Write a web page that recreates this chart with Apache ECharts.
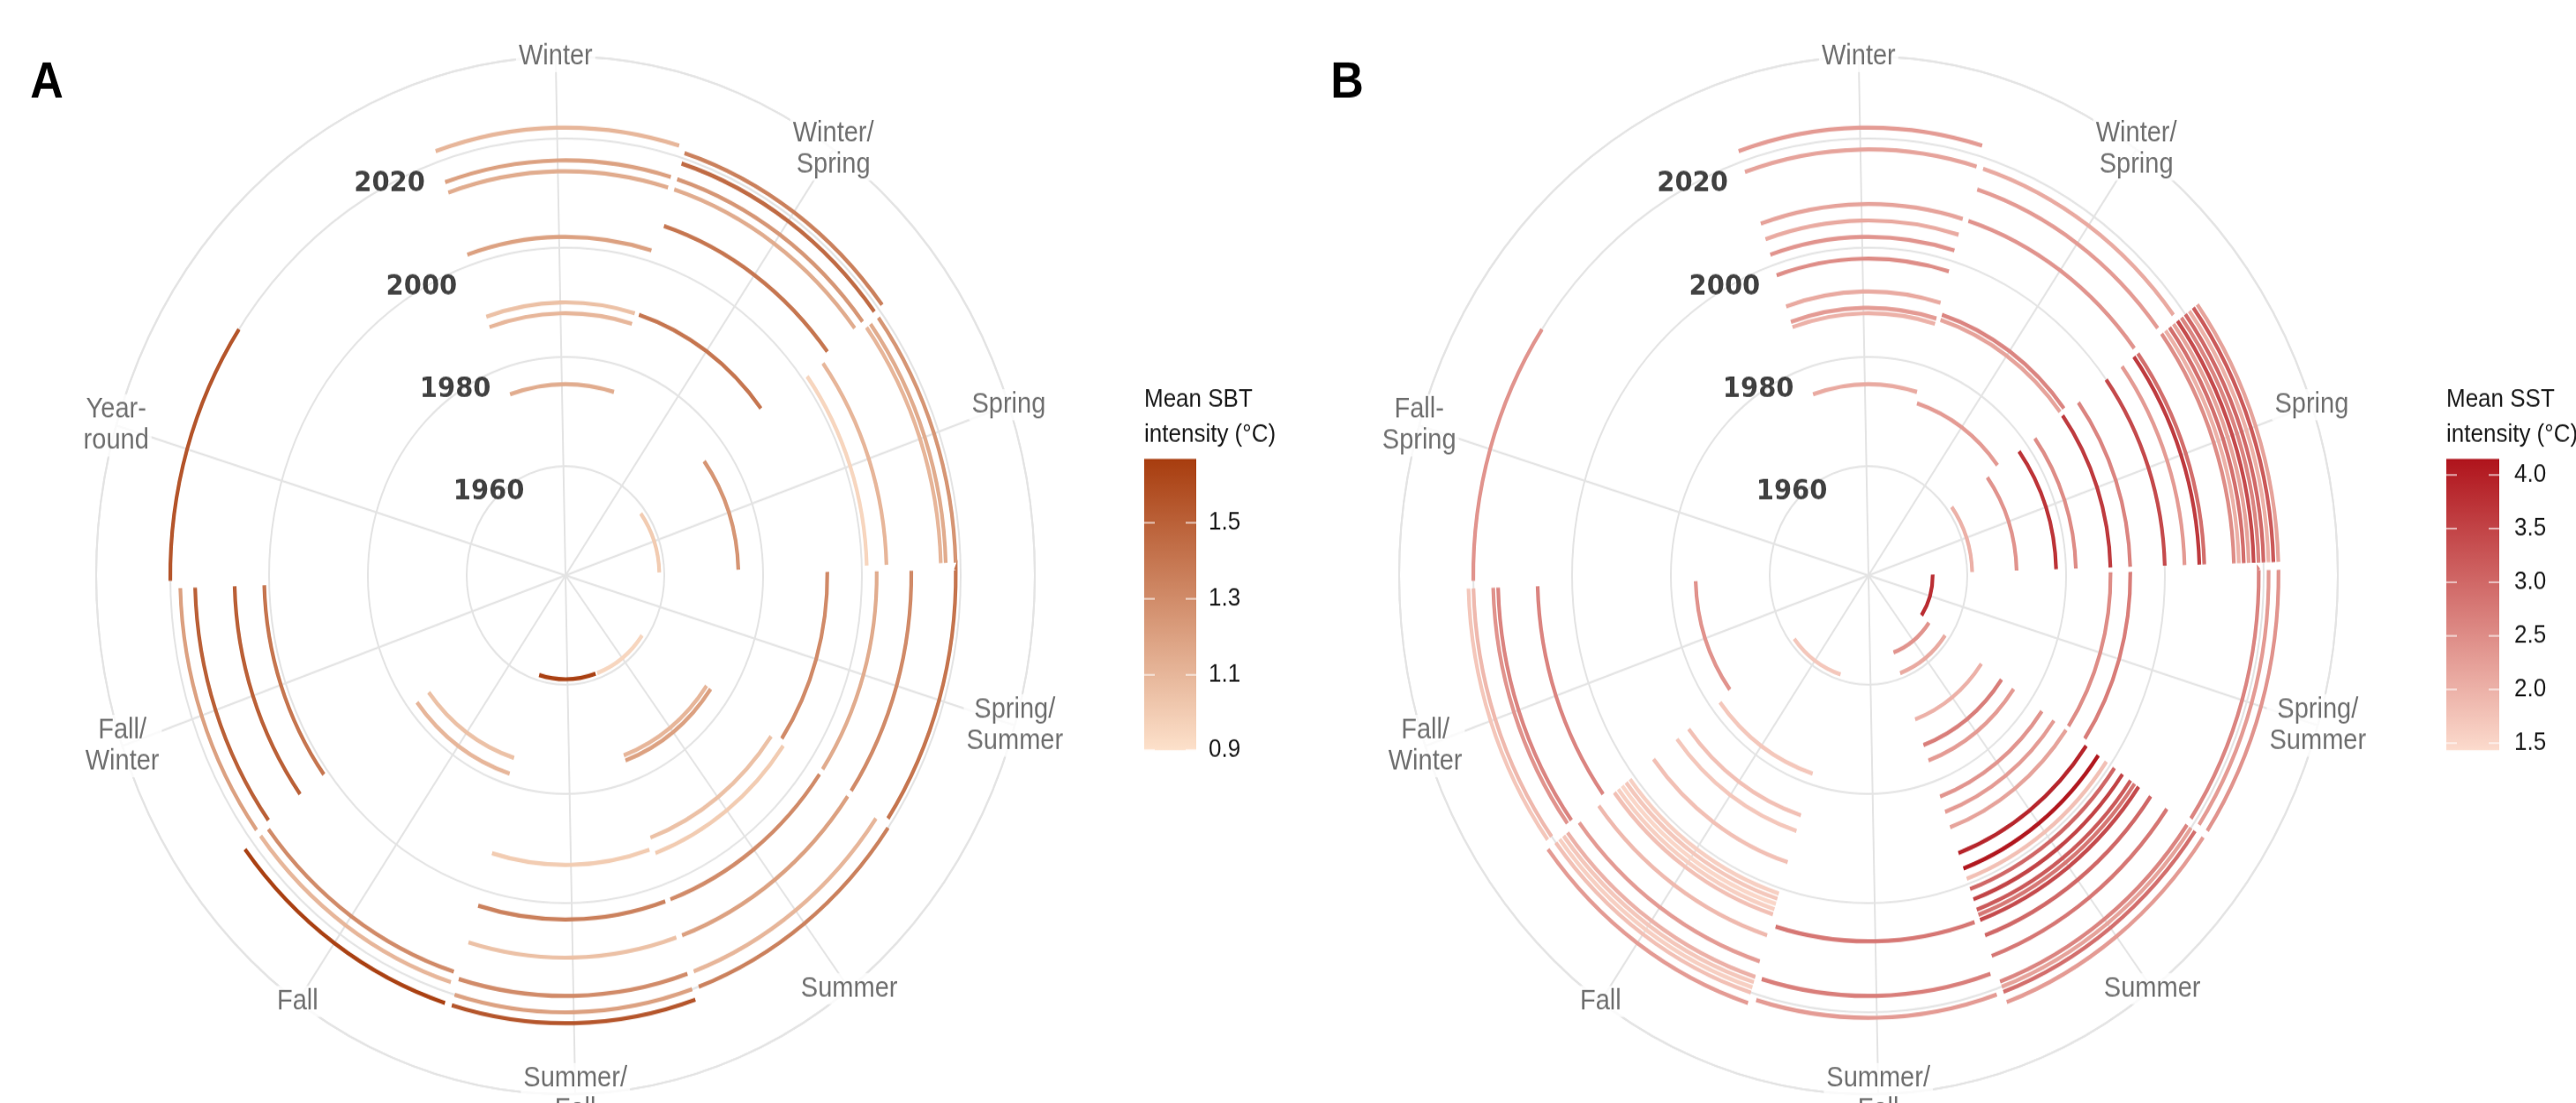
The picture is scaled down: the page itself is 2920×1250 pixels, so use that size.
<!DOCTYPE html>
<html><head><meta charset="utf-8">
<script src="https://cdn.jsdelivr.net/npm/echarts@6.0.0/dist/echarts.min.js"></script>
<style>
html,body{margin:0;padding:0;background:#fff;overflow:hidden;}
#wrap{width:2920px;height:1250px;overflow:hidden;background:#fff;}
#chart{width:2920px;height:1131px;transform:scaleY(1.10522);transform-origin:0 0;}
</style></head><body>
<div id="wrap"><div id="chart"></div></div>
<script>
// ---------- data ----------
const seasonLabelsA = ['Winter','Winter/\nSpring','Spring','Spring/\nSummer','Summer','Summer/\nFall','Fall','Fall/\nWinter','Year-\nround'];
const seasonLabelsB = ['Winter','Winter/\nSpring','Spring','Spring/\nSummer','Summer','Summer/\nFall','Fall','Fall/\nWinter','Fall-\nSpring'];
const yearTicks = [1960, 1980, 2000, 2020];
const yearLabelRadius = [1961.8, 1980.7, 2000.3, 2020.1]; // where the bold year labels are centred
const yearLabelAngle = [8.772, 9.111, 9.231, 9.3];         // in season-slot units

// Panel A: mean SBT intensity, one list per season slot
const sbtYears = [
  [2022,2016,2014,2002,1990,1988,1975],
  [2021,2019,2016,2014,2007,1990],
  [2019,2017,2016,2005,2001,1975,1959],
  [2019,2010,2003,1993],
  [2020,2017,2010,2003,1994,1991,1976,1975,1959],
  [2022,2020,2017,2010,2003,1993,1959],
  [2022,2018,2016,1978,1975],
  [2018,2015,2007,2001],
  [2020]
];
const sbtValues = [
  [1.10,1.20,1.15,1.20,1.05,1.10,1.15],
  [1.35,1.45,1.25,1.15,1.40,1.40],
  [1.25,1.15,1.10,1.10,0.95,1.25,1.00],
  [1.40,1.30,1.15,1.30],
  [1.35,1.10,1.20,1.30,1.00,1.05,1.20,1.10,0.95],
  [1.55,1.20,1.30,1.05,1.35,1.00,1.65],
  [1.65,1.10,1.30,1.10,1.05],
  [1.20,1.50,1.50,1.40],
  [1.55]
];
// Panel B: mean SST intensity
const sstYears = [
  [2022,2018,2008,2005,2002,1998,1992,1989,1988,1975],
  [2018,2014,2008,1990,1989,1973],
  [2023,2022,2021,2020,2019,2018,2017,2016,2015,2014,2008,2007,2004,2000,1993,1989,1982,1978,1970,1961],
  [2023,2021,2019,1993,1989,1953],
  [2023,2021,2020,2019,2014,2010,2007,2006,2005,2003,2001,1999,1997,1994,1989,1986,1983,1976,1973,1968,1959,1955],
  [2021,2017,2007],
  [2022,2020,2019,2018,2017,2014,2009,2005,2004,2003,2002,2001,1995,1989,1986,1978,1959],
  [2021,2020,2016,2015,2007,1975],
  [2020]
];
const sstValues = [
  [2.3,2.2,2.2,2.1,2.4,2.5,2.1,2.3,2.0,2.1],
  [2.1,2.3,2.4,2.6,2.2,2.3],
  [2.2,3.2,2.0,3.0,2.6,3.4,2.2,2.9,2.0,2.5,2.9,3.6,2.3,3.4,2.6,3.6,2.5,3.7,2.4,2.0],
  [2.4,2.3,2.6,2.7,2.5,3.8],
  [2.3,2.9,2.2,2.6,2.8,3.0,3.4,2.8,3.2,3.5,3.0,1.8,4.1,3.9,2.2,2.3,2.4,2.3,2.7,2.0,2.1,2.4],
  [2.3,2.7,2.8],
  [2.3,1.8,1.6,1.7,2.0,2.3,1.9,1.8,1.6,1.5,1.7,1.6,1.8,1.7,1.8,1.7,1.7],
  [1.7,1.9,2.4,2.6,2.6,2.4],
  [2.4]
];
const sbtRange = [0.9, 1.667];
const sbtTicks = [0.9, 1.1, 1.3, 1.5];
const sstRange = [1.43, 4.15];
const sstTicks = [1.5, 2.0, 2.5, 3.0, 3.5, 4.0];

// ---------- build ----------
const GRID = '#e4e4e4';
const spokeColors = [GRID,GRID,GRID,GRID,GRID,GRID,GRID,GRID,GRID,'rgba(0,0,0,0)'];
const HALF = 0.486;
const R = 532, CY = 590;
const CLEAR = 'rgba(0,0,0,0)';

const panels = [
  {cx: 641, years: sbtYears, vals: sbtValues, labels: seasonLabelsA, range: sbtRange, ticks: sbtTicks,
   low: '#fde1cb', high: '#a83d0f', letter: 'A', letterX: 53,
   title: 'Mean SBT\nintensity (°C)', barLeft: 1297, barW: 59, labMargin: 14},
  {cx: 2118, years: sstYears, vals: sstValues, labels: seasonLabelsB, range: sstRange, ticks: sstTicks,
   low: '#fcdbcd', high: '#b0141c', letter: 'B', letterX: 1527,
   title: 'Mean SST\nintensity (°C)', barLeft: 2773, barW: 60, labMargin: 17}
];
const BAR_TOP = 470.6, BAR_H = 298.6;

const polar = [], angleAxis = [], radiusAxis = [], series = [], visualMap = [];
const grid = [], xAxis = [], yAxis = [], graphic = [];

panels.forEach((p, i) => {
  polar.push({center: [p.cx, CY], radius: R});
  angleAxis.push({polarIndex: i, type: 'value', min: 0, max: 10, interval: 1, startAngle: 91.2, clockwise: true,
    axisLine: {show: true, lineStyle: {color: GRID, width: 2}}, axisTick: {show: false}, axisLabel: {show: false},
    splitLine: {show: true, lineStyle: {color: spokeColors, width: 2}}});
  radiusAxis.push({polarIndex: i, type: 'value', min: 1940, max: 2035, interval: 20,
    axisLine: {show: false}, axisTick: {show: false}, axisLabel: {show: false},
    splitLine: {show: true, lineStyle: {color: GRID, width: 2}}});

  const data = [];
  p.years.forEach((ys, s) => ys.forEach((y, k) => data.push([y, s, p.vals[s][k]])));
  const arcIdx = series.length;
  series.push({
    type: 'custom', coordinateSystem: 'polar', polarIndex: i, z: 3,
    encode: {radius: 0, angle: 1}, data: data, silent: true,
    renderItem: function (params, api) {
      const y = api.value(0), s = api.value(1);
      const a = api.coord([y, s - HALF]);
      const b = api.coord([y, s + HALF]);
      return {type: 'arc',
        shape: {cx: params.coordSys.cx, cy: params.coordSys.cy, r: a[2], startAngle: -a[3], endAngle: -b[3], clockwise: true},
        style: {stroke: api.visual('color'), lineWidth: 4.2, fill: null, lineCap: 'butt'}};
    }
  });
  visualMap.push({type: 'continuous', show: false, seriesIndex: arcIdx, dimension: 2,
    min: p.range[0], max: p.range[1], inRange: {color: [p.low, p.high]}});

  // season labels on the outer circle
  series.push({
    type: 'scatter', coordinateSystem: 'polar', polarIndex: i, z: 6, silent: true,
    symbolSize: 1, itemStyle: {color: CLEAR},
    data: p.labels.map((t, k) => [2035, k]),
    label: {show: true, position: 'inside', formatter: (q) => p.labels[q.dataIndex],
      fontFamily: 'Liberation Sans', fontSize: 29, lineHeight: 32, color: '#4d4d4d',
      backgroundColor: '#ffffff', padding: [0, 3], align: 'center', verticalAlign: 'middle'}
  });
  // bold year labels
  series.push({
    type: 'scatter', coordinateSystem: 'polar', polarIndex: i, z: 6, silent: true,
    symbolSize: 1, itemStyle: {color: CLEAR},
    data: yearTicks.map((y, k) => [yearLabelRadius[k], yearLabelAngle[k]]),
    label: {show: true, position: 'inside', formatter: (q) => String(yearTicks[q.dataIndex]),
      fontFamily: 'DejaVu Sans', fontWeight: 'bold', fontSize: 29, color: '#111111'}
  });

  // colour bar legend
  grid.push({left: p.barLeft, top: BAR_TOP, width: p.barW, height: BAR_H, show: false});
  xAxis.push({gridIndex: i, type: 'category', data: [''], show: false});
  const tickStyle = {show: true, inside: true, length: 12, lineStyle: {color: 'rgba(255,255,255,0.75)', width: 1.5}, customValues: p.ticks};
  yAxis.push({gridIndex: i, type: 'value', min: p.range[0], max: p.range[1], position: 'left', z: 10,
    axisLine: {show: false}, splitLine: {show: false}, axisTick: tickStyle, axisLabel: {show: false}});
  yAxis.push({gridIndex: i, type: 'value', min: p.range[0], max: p.range[1], position: 'right', z: 10,
    axisLine: {show: false}, splitLine: {show: false}, axisTick: tickStyle,
    axisLabel: {show: true, margin: p.labMargin, fontSize: 26, color: '#1a1a1a', fontFamily: 'Liberation Sans',
      customValues: p.ticks, formatter: (v) => Number(v).toFixed(1)}});
  series.push({
    type: 'custom', coordinateSystem: 'cartesian2d', xAxisIndex: i, yAxisIndex: 2 * i + 1, z: 2, silent: true,
    data: [[0, p.range[1]]],
    renderItem: function (params, api) {
      const t = api.coord([0, p.range[1]]);
      const b = api.coord([0, p.range[0]]);
      const w = api.size([1, 0])[0];
      return {type: 'rect', shape: {x: t[0] - w / 2, y: t[1], width: w, height: b[1] - t[1]},
        style: {fill: new echarts.graphic.LinearGradient(0, 0, 0, 1, [{offset: 0, color: p.high}, {offset: 1, color: p.low}])}};
    }
  });

  graphic.push({type: 'text', x: p.letterX, y: 86, z: 10,
    style: {text: p.letter, x: 0, y: 0, align: 'center', verticalAlign: 'middle', font: 'bold 52px "Liberation Sans"', fill: '#000'}});
  graphic.push({type: 'text', x: p.barLeft, y: 392, z: 10,
    style: {text: p.title, align: 'left', verticalAlign: 'top', fontFamily: 'Liberation Sans', fontSize: 26, lineHeight: 36, fill: '#1a1a1a'}});
});

const chart = echarts.init(document.getElementById('chart'), null, {renderer: 'canvas'});
chart.setOption({
  animation: false,
  backgroundColor: '#ffffff',
  polar, angleAxis, radiusAxis, grid, xAxis, yAxis, visualMap, series, graphic
});
</script></body></html>
